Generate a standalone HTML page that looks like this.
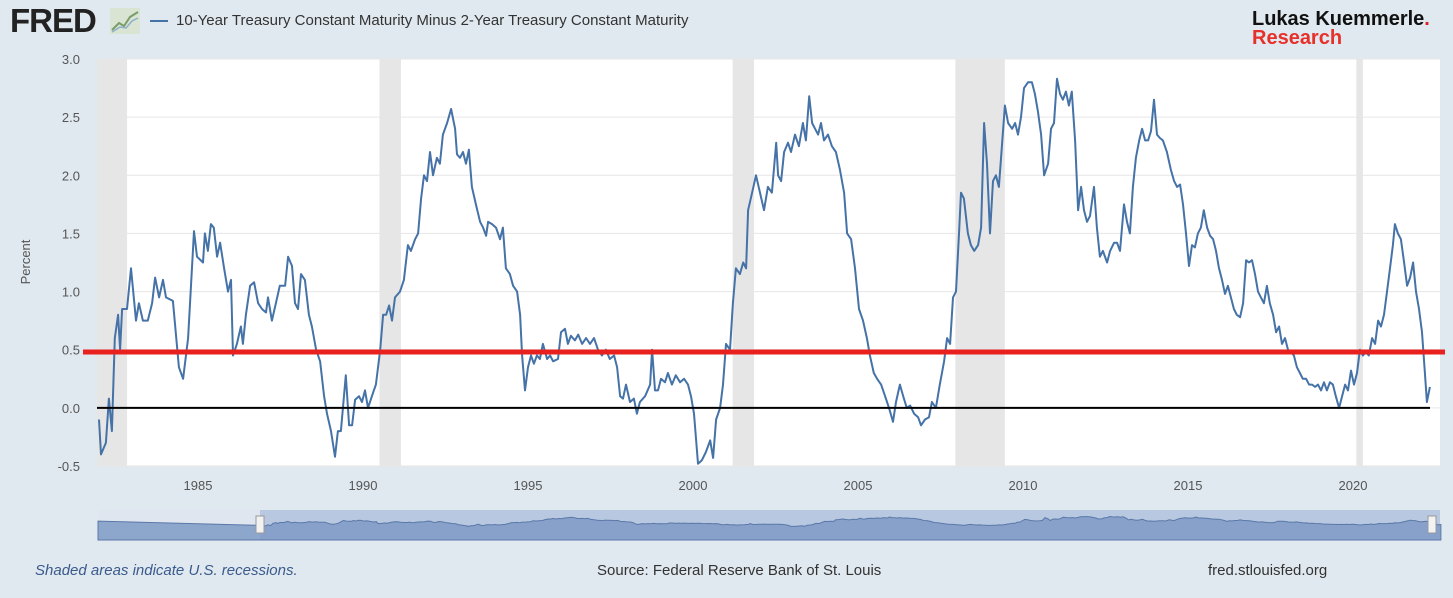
<!DOCTYPE html>
<html><head><meta charset="utf-8">
<style>
body{margin:0;width:1453px;height:598px;background:#e1e9f0;font-family:"Liberation Sans",sans-serif;overflow:hidden;position:relative}
.abs{position:absolute}
</style></head>
<body>
<div class="abs" style="left:10px;top:2px;font-size:33px;font-weight:900;color:#222;letter-spacing:-1px">FRED</div>
<svg class="abs" style="left:110px;top:8px" width="30" height="26"><rect width="30" height="26" fill="#d9e4d2"/><polyline points="2,22 9,15 14,18 20,9 28,4" fill="none" stroke="#7a9c6a" stroke-width="2"/><polyline points="2,24 10,19 16,20 22,13 28,10" fill="none" stroke="#8fb0c8" stroke-width="1.5"/></svg>
<div class="abs" style="left:150px;top:12px;font-size:15px;color:#333"><span style="display:inline-block;width:18px;height:2px;background:#4572a7;vertical-align:middle;margin-right:8px"></span>10-Year Treasury Constant Maturity Minus 2-Year Treasury Constant Maturity</div>
<div class="abs" style="left:1252px;top:10px;font-size:20px;font-weight:bold;line-height:19px;color:#111">Lukas Kuemmerle<span style="color:#e02020">.</span><br><span style="color:#e8302a">Research</span></div>
<svg class="abs" style="left:0;top:0" width="1453" height="598" id="chart"></svg>
<div class="abs" style="left:35px;top:562px;font-size:15px;font-style:italic;color:#3a5a8c">Shaded areas indicate U.S. recessions.</div>
<div class="abs" style="left:597px;top:562px;font-size:15px;color:#333">Source: Federal Reserve Bank of St. Louis</div>
<div class="abs" style="left:1208px;top:562px;font-size:15px;color:#333">fred.stlouisfed.org</div>
<script>
const yTicks=[-0.5,0,0.5,1,1.5,2,2.5,3];
const xTicks=[1985,1990,1995,2000,2005,2010,2015,2020];
const recessions=[[1981.5,1982.85],[1990.5,1991.15],[2001.2,2001.85],[2007.95,2009.45],[2020.1,2020.3]];
const refLevel=0.48;
const dates=[1982.00,1982.06,1982.21,1982.30,1982.39,1982.48,1982.58,1982.64,1982.70,1982.85,1982.97,1983.12,1983.21,1983.33,1983.48,1983.61,1983.70,1983.82,1983.94,1984.03,1984.24,1984.42,1984.55,1984.70,1984.88,1984.97,1985.15,1985.21,1985.30,1985.39,1985.48,1985.58,1985.67,1985.79,1985.91,1986.00,1986.06,1986.18,1986.30,1986.36,1986.45,1986.58,1986.70,1986.82,1986.94,1987.06,1987.12,1987.24,1987.36,1987.48,1987.64,1987.73,1987.85,1987.94,1988.03,1988.12,1988.24,1988.36,1988.45,1988.58,1988.70,1988.82,1988.91,1989.03,1989.15,1989.24,1989.33,1989.48,1989.58,1989.67,1989.76,1989.88,1989.97,1990.06,1990.15,1990.27,1990.39,1990.52,1990.61,1990.70,1990.79,1990.88,1990.97,1991.12,1991.24,1991.36,1991.45,1991.58,1991.67,1991.76,1991.85,1991.94,1992.03,1992.12,1992.24,1992.33,1992.42,1992.55,1992.67,1992.79,1992.85,1992.94,1993.03,1993.12,1993.21,1993.30,1993.42,1993.55,1993.64,1993.73,1993.79,1993.91,1994.03,1994.15,1994.24,1994.33,1994.45,1994.55,1994.67,1994.76,1994.82,1994.91,1995.00,1995.09,1995.18,1995.27,1995.36,1995.45,1995.58,1995.67,1995.76,1995.91,1996.00,1996.12,1996.21,1996.30,1996.42,1996.52,1996.64,1996.76,1996.88,1997.00,1997.12,1997.24,1997.36,1997.48,1997.61,1997.70,1997.79,1997.88,1997.97,1998.09,1998.21,1998.30,1998.39,1998.55,1998.70,1998.76,1998.85,1998.94,1999.03,1999.15,1999.24,1999.36,1999.48,1999.61,1999.73,1999.85,1999.94,2000.03,2000.15,2000.27,2000.39,2000.52,2000.61,2000.70,2000.82,2000.91,2001.00,2001.12,2001.21,2001.30,2001.42,2001.52,2001.61,2001.67,2001.79,2001.91,2002.03,2002.15,2002.27,2002.39,2002.52,2002.58,2002.67,2002.76,2002.88,2002.97,2003.09,2003.21,2003.33,2003.42,2003.52,2003.61,2003.70,2003.79,2003.88,2003.97,2004.09,2004.21,2004.33,2004.45,2004.58,2004.67,2004.79,2004.91,2005.03,2005.15,2005.27,2005.36,2005.48,2005.58,2005.70,2005.82,2005.94,2006.06,2006.15,2006.27,2006.39,2006.48,2006.58,2006.70,2006.82,2006.91,2007.03,2007.15,2007.24,2007.36,2007.48,2007.61,2007.70,2007.79,2007.88,2007.97,2008.06,2008.12,2008.21,2008.33,2008.42,2008.52,2008.64,2008.73,2008.82,2008.91,2009.00,2009.09,2009.18,2009.27,2009.36,2009.45,2009.55,2009.67,2009.76,2009.85,2009.94,2010.03,2010.15,2010.27,2010.36,2010.45,2010.55,2010.64,2010.76,2010.85,2010.94,2011.03,2011.12,2011.21,2011.30,2011.39,2011.48,2011.58,2011.67,2011.76,2011.85,2011.94,2012.03,2012.15,2012.24,2012.33,2012.42,2012.55,2012.64,2012.76,2012.85,2012.94,2013.06,2013.15,2013.24,2013.33,2013.42,2013.52,2013.61,2013.70,2013.79,2013.88,2013.97,2014.06,2014.15,2014.24,2014.36,2014.48,2014.58,2014.67,2014.76,2014.85,2014.94,2015.03,2015.12,2015.21,2015.30,2015.39,2015.48,2015.58,2015.67,2015.76,2015.85,2015.94,2016.03,2016.12,2016.21,2016.30,2016.39,2016.48,2016.58,2016.67,2016.76,2016.85,2016.94,2017.03,2017.12,2017.21,2017.30,2017.39,2017.48,2017.58,2017.67,2017.76,2017.85,2017.94,2018.03,2018.12,2018.21,2018.30,2018.39,2018.48,2018.58,2018.67,2018.76,2018.85,2018.94,2019.03,2019.12,2019.21,2019.30,2019.39,2019.48,2019.58,2019.67,2019.76,2019.85,2019.94,2020.03,2020.12,2020.21,2020.30,2020.39,2020.48,2020.58,2020.67,2020.76,2020.85,2020.94,2021.03,2021.12,2021.21,2021.27,2021.36,2021.45,2021.55,2021.64,2021.73,2021.82,2021.91,2022.00,2022.09,2022.18,2022.24,2022.33];
const spread=[-0.1,-0.4,-0.3,0.08,-0.2,0.6,0.8,0.5,0.85,0.85,1.2,0.75,0.9,0.75,0.75,0.9,1.12,0.95,1.1,0.95,0.92,0.35,0.25,0.6,1.52,1.3,1.25,1.5,1.35,1.58,1.55,1.3,1.42,1.2,1.0,1.1,0.45,0.55,0.7,0.55,0.8,1.05,1.08,0.9,0.85,0.82,0.95,0.75,0.9,1.05,1.05,1.3,1.22,0.9,0.85,1.15,1.1,0.8,0.7,0.5,0.4,0.1,-0.05,-0.2,-0.42,-0.2,-0.2,0.28,-0.15,-0.15,0.07,0.1,0.05,0.15,0.0,0.1,0.2,0.5,0.8,0.8,0.88,0.75,0.95,1.0,1.1,1.4,1.35,1.45,1.5,1.8,2.0,1.95,2.2,2.0,2.15,2.1,2.35,2.45,2.57,2.4,2.18,2.15,2.2,2.1,2.22,1.9,1.75,1.6,1.55,1.48,1.6,1.58,1.55,1.45,1.55,1.2,1.15,1.05,1.0,0.8,0.45,0.15,0.35,0.45,0.38,0.45,0.42,0.55,0.42,0.45,0.4,0.42,0.65,0.68,0.55,0.62,0.58,0.63,0.55,0.6,0.55,0.6,0.5,0.45,0.5,0.42,0.45,0.35,0.1,0.08,0.2,0.05,0.08,-0.05,0.05,0.1,0.2,0.5,0.15,0.15,0.25,0.22,0.3,0.2,0.28,0.22,0.25,0.2,0.1,-0.05,-0.48,-0.45,-0.38,-0.28,-0.43,-0.1,0.0,0.2,0.55,0.5,0.9,1.2,1.15,1.25,1.2,1.7,1.85,2.0,1.85,1.7,1.9,1.85,2.28,2.0,1.95,2.2,2.28,2.2,2.35,2.25,2.45,2.3,2.68,2.45,2.4,2.35,2.45,2.3,2.35,2.25,2.2,2.05,1.85,1.5,1.45,1.2,0.85,0.75,0.6,0.45,0.3,0.25,0.2,0.1,0.0,-0.12,0.05,0.2,0.08,0.0,0.02,-0.05,-0.08,-0.15,-0.1,-0.08,0.05,0.0,0.2,0.4,0.6,0.55,0.95,1.0,1.5,1.85,1.8,1.5,1.4,1.35,1.4,1.55,2.45,2.1,1.5,1.95,2.0,1.9,2.25,2.6,2.45,2.4,2.45,2.35,2.5,2.75,2.8,2.8,2.7,2.55,2.35,2.0,2.1,2.4,2.45,2.83,2.7,2.65,2.72,2.6,2.72,2.3,1.7,1.9,1.7,1.6,1.65,1.9,1.55,1.3,1.35,1.25,1.35,1.42,1.42,1.35,1.75,1.6,1.5,1.9,2.15,2.3,2.4,2.3,2.3,2.38,2.65,2.35,2.32,2.3,2.2,2.05,1.95,1.9,1.92,1.75,1.5,1.22,1.4,1.38,1.5,1.55,1.7,1.55,1.48,1.45,1.35,1.2,1.1,0.98,1.05,0.95,0.85,0.8,0.78,0.9,1.27,1.25,1.27,1.15,1.0,0.95,0.9,1.05,0.9,0.8,0.65,0.7,0.55,0.6,0.5,0.48,0.45,0.35,0.3,0.25,0.25,0.2,0.2,0.18,0.2,0.15,0.22,0.15,0.22,0.2,0.1,0.0,0.1,0.2,0.15,0.32,0.2,0.3,0.5,0.45,0.48,0.45,0.6,0.55,0.75,0.7,0.8,1.0,1.2,1.4,1.58,1.5,1.45,1.25,1.05,1.12,1.25,1.0,0.85,0.65,0.3,0.05,0.18];

const svg=document.getElementById('chart');
const NS='http://www.w3.org/2000/svg';
const PL=97,PR=1440,PT=59,PB=466;
const X=y=>198+(y-1985)*33;
const Y=v=>PB-(v+0.5)/3.5*(PB-PT);
function mk(t,a){const e=document.createElementNS(NS,t);for(const k in a)e.setAttribute(k,a[k]);svg.appendChild(e);return e;}
let e=mk('rect',{x:PL,y:PT,width:PR-PL,height:PB-PT,fill:'#fff'});


recessions.forEach(r=>{const x1=Math.max(PL,X(r[0])),x2=X(r[1]);
 const g=mk('rect',{x:x1,y:PT,width:x2-x1,height:PB-PT,fill:'#e6e6e6'});
 
 });
yTicks.forEach(t=>{const y=Y(t);
 const l=mk('line',{x1:PL,x2:PR,y1:y,y2:y,stroke:'#e6e6e6'});
 
 
 const tx=mk('text',{x:80,y:y+5,'text-anchor':'end','font-size':13,fill:'#555'});tx.textContent=t.toFixed(1);
 
 });
xTicks.forEach(t=>{const tx=mk('text',{x:X(t),y:490,'text-anchor':'middle','font-size':13,fill:'#555'});tx.textContent=t;
 
 });
e=mk('text',{x:30,y:262,'text-anchor':'middle','font-size':13,fill:'#555',transform:'rotate(-90 30 262)'});e.textContent='Percent';


const n=Math.min(spread.length,dates.length);
const idx=[...Array(n).keys()];
const pts=idx.map(i=>X(dates[i]).toFixed(1)+','+Y(spread[i]).toFixed(1)).join(' ');
e=mk('polyline',{points:pts,fill:'none',stroke:'#4572a7','stroke-width':2,'stroke-linejoin':'round'});


e=mk('line',{x1:PL,x2:PR-10,y1:Y(0),y2:Y(0),stroke:'#000','stroke-width':2});


e=mk('line',{x1:83,x2:1445,y1:Y(refLevel),y2:Y(refLevel),stroke:'#e8201e','stroke-width':5});


// navigator
const NT=510,NB=540,NL=98,NR=1440;
e=mk('rect',{x:NL,y:NT,width:NR-NL,height:NB-NT,fill:'#dfe6ef'});


e=mk('rect',{x:260,y:NT,width:NR-260,height:NB-NT,fill:'#b8c8e0'});


const NX=y=>NL+(y-1976.5)/(2022.3-1976.5)*(NR-NL);
const NY=v=>NT+12-(v-1)*3;
let np=NL+','+NB+' '+NL+','+NY(1.3).toFixed(1)+' '+idx.map(i=>NX(dates[i]).toFixed(1)+','+NY(spread[i]).toFixed(1)).join(' ')+' '+NX(dates[n-1]).toFixed(1)+','+NB;
e=mk('polygon',{points:np,fill:'#7f9ac6','fill-opacity':0.85,stroke:'#5a78a8'});


[260,1432].forEach(x=>{const h=mk('rect',{x:x-4,y:NT+6,width:8,height:17,fill:'#f2f2f2',stroke:'#999'});
 
 });
</script>
</body></html>
